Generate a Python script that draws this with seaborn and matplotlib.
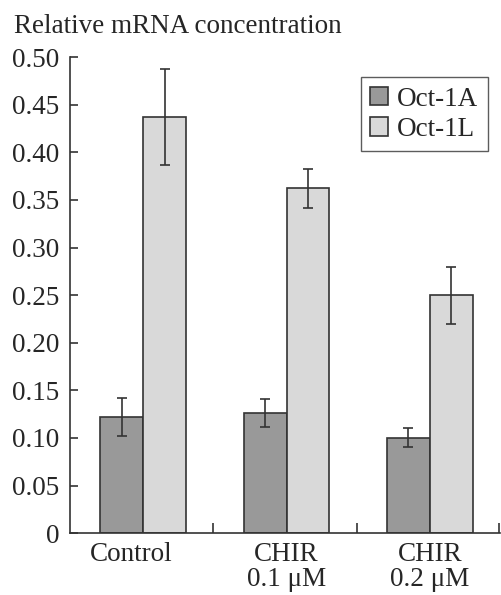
import pandas as pd
import matplotlib.pyplot as plt
import matplotlib.transforms as mtransforms
import seaborn as sns
from matplotlib.ticker import FixedLocator

# values
groups = ["Control", "CHIR\n0.1 μM", "CHIR\n0.2 μM"]
oct1a_mean = [0.122, 0.126, 0.100]
oct1a_err = [0.020, 0.015, 0.010]
oct1l_mean = [0.437, 0.362, 0.250]
oct1l_err = [0.050, 0.020, 0.030]
yticks = [0, 0.05, 0.10, 0.15, 0.20, 0.25, 0.30, 0.35, 0.40, 0.45, 0.50]
ytick_labels = ["0", "0.05", "0.10", "0.15", "0.20", "0.25", "0.30", "0.35", "0.40", "0.45", "0.50"]

df = pd.DataFrame({
    "group": groups * 2,
    "isoform": ["Oct-1A"] * 3 + ["Oct-1L"] * 3,
    "value": oct1a_mean + oct1l_mean,
})
errs = {"Oct-1A": oct1a_err, "Oct-1L": oct1l_err}

FS = 19.5
sns.set_style("white")
plt.rcParams["font.family"] = ["Liberation Serif", "DejaVu Serif"]
plt.rcParams["font.size"] = FS

fig = plt.figure(figsize=(5.01, 5.95), dpi=100)
ax = fig.add_axes([0.14, 0.104, 0.858, 0.8])

sns.barplot(data=df, x="group", y="value", hue="isoform", order=groups,
            hue_order=["Oct-1A", "Oct-1L"],
            palette={"Oct-1A": "#999999", "Oct-1L": "#d9d9d9"},
            width=0.6, edgecolor="#333333", linewidth=1.2, ax=ax)

# error bars on top of each bar
for cont, name in zip(ax.containers, ["Oct-1A", "Oct-1L"]):
    xs = [p.get_x() + p.get_width() / 2 for p in cont.patches]
    hs = [p.get_height() for p in cont.patches]
    ax.errorbar(xs, hs, yerr=errs[name], fmt="none", ecolor="#333333",
                elinewidth=1.2, capsize=3.5, capthick=1.2, zorder=5)

ax.set_xlim(-0.51, 2.49)
ax.set_ylim(0, 0.5)
ax.set_yticks(yticks)
ax.set_yticklabels(ytick_labels)
ax.set_xlabel("")
ax.set_ylabel("")

sns.despine(ax=ax, top=True, right=True)
for s in ["left", "bottom"]:
    ax.spines[s].set_color("#333333")
    ax.spines[s].set_linewidth(1.2)

ax.tick_params(axis="y", direction="in", length=6, width=1.2, color="#333333",
               left=True, pad=7.5, labelsize=FS)
ax.tick_params(axis="x", which="major", bottom=False, pad=3, labelsize=FS)
ax.xaxis.set_minor_locator(FixedLocator([0.49, 1.49, 2.48]))
ax.tick_params(axis="x", which="minor", direction="in", length=7, width=1.2,
               color="#333333", bottom=True)

for i, lab in enumerate(ax.get_xticklabels()):
    lab.set_linespacing(1.0)
    if i == 0:
        lab.set_transform(lab.get_transform() +
                          mtransforms.ScaledTranslation(-12 / 100, 0, fig.dpi_scale_trans))

fig.text(0.028, 0.945, "Relative mRNA concentration", fontsize=FS, ha="left", va="baseline")

leg = ax.legend(loc="upper right", bbox_to_anchor=(0.972, 0.958), borderaxespad=0,
                frameon=True, fancybox=False, edgecolor="#333333", handlelength=0.65,
                handleheight=0.65, handletextpad=0.35, borderpad=0.35,
                labelspacing=0.2, fontsize=FS)
leg.get_frame().set_linewidth(1.0)

fig.savefig("out.png", dpi=100)
